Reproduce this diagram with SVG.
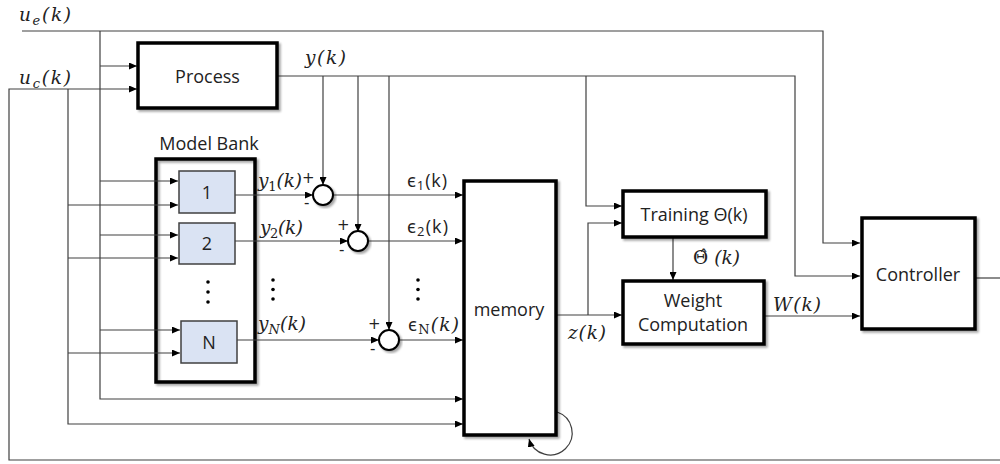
<svg xmlns="http://www.w3.org/2000/svg" width="1000" height="464" viewBox="0 0 1000 464">
<style>
.ln{fill:none;stroke:#404040;stroke-width:1.2}
.blk{fill:#fff;stroke:#000;stroke-width:3.5}
.mdl{fill:#dae3f3;stroke:#404040;stroke-width:1.5}
.sum{fill:#fff;stroke:#000;stroke-width:2}
.lb{font-family:"Open Sans","Noto Sans",sans-serif;font-size:18px;fill:#222}
.mt{font-family:"DejaVu Serif","Liberation Serif",serif;font-style:italic;font-size:18.5px;fill:#222}
.sg{font-family:"DejaVu Sans","Noto Sans",sans-serif;font-size:15px;fill:#222}
.dot{fill:#000}
</style>
<defs>
<marker id="ar" markerUnits="userSpaceOnUse" markerWidth="8" markerHeight="7" refX="8" refY="3.5" orient="auto">
<path d="M0,0 L8,3.5 L0,7 z" fill="#000"/>
</marker>
<filter id="sh" x="-10%" y="-10%" width="130%" height="130%">
<feDropShadow dx="2" dy="2" stdDeviation="1.2" flood-color="#000" flood-opacity="0.35"/>
</filter>
</defs>

<g id="model-bank">
<rect x="156" y="159" width="99" height="223" fill="none" stroke="#000" stroke-width="3.5" filter="url(#sh)"/>
<text class="lb" x="209" y="150" text-anchor="middle" font-size="19">Model Bank</text>
</g>

<g id="connectors">
<path class="ln" d="M22,31 H823 V243 H860" marker-end="url(#ar)"/>
<path class="ln" d="M100,31 V399 H463" marker-end="url(#ar)"/>
<path class="ln" d="M100,66 H137" marker-end="url(#ar)"/>
<path class="ln" d="M100,181 H178" marker-end="url(#ar)"/>
<path class="ln" d="M100,235 H178" marker-end="url(#ar)"/>
<path class="ln" d="M100,330 H180" marker-end="url(#ar)"/>
<path class="ln" d="M1000,460 H9 V89 H137" marker-end="url(#ar)"/>
<path class="ln" d="M68,89 V424 H463" marker-end="url(#ar)"/>
<path class="ln" d="M68,205 H178" marker-end="url(#ar)"/>
<path class="ln" d="M68,258 H178" marker-end="url(#ar)"/>
<path class="ln" d="M68,353 H180" marker-end="url(#ar)"/>
<path class="ln" d="M277,76 H795 V276 H860" marker-end="url(#ar)"/>
<path class="ln" d="M323,76 V185" marker-end="url(#ar)"/>
<path class="ln" d="M358,76 V232" marker-end="url(#ar)"/>
<path class="ln" d="M389,76 V330" marker-end="url(#ar)"/>
<path class="ln" d="M586,76 V206 H622" marker-end="url(#ar)"/>
<path class="ln" d="M235,195 H313" marker-end="url(#ar)"/>
<path class="ln" d="M235,241 H348" marker-end="url(#ar)"/>
<path class="ln" d="M237,340 H379" marker-end="url(#ar)"/>
<path class="ln" d="M333,195 H463" marker-end="url(#ar)"/>
<path class="ln" d="M368,241 H463" marker-end="url(#ar)"/>
<path class="ln" d="M399,340 H463" marker-end="url(#ar)"/>
<path class="ln" d="M556,315 H622" marker-end="url(#ar)"/>
<path class="ln" d="M588,315 V223 H622" marker-end="url(#ar)"/>
<path class="ln" d="M673,237 V280" marker-end="url(#ar)"/>
<path class="ln" d="M764,316 H860" marker-end="url(#ar)"/>
<path class="ln" d="M975,278 H1000"/>
<path class="ln" d="M557,412 A22,22 0 1 1 529,439" marker-end="url(#ar)"/>
</g>

<g id="labels">
<text class="mt" x="19" y="21" textLength="52" lengthAdjust="spacing">u<tspan font-size="13" dy="4">e</tspan><tspan dy="-4">(k)</tspan></text>
<text class="mt" x="19" y="84" textLength="52" lengthAdjust="spacing">u<tspan font-size="13" dy="4">c</tspan><tspan dy="-4">(k)</tspan></text>
<text class="mt" x="305" y="64" textLength="41" lengthAdjust="spacing">y(k)</text>
<text class="mt" x="258" y="187" textLength="44" lengthAdjust="spacing">y<tspan font-size="13" font-style="normal" dy="4">1</tspan><tspan dy="-4">(k)</tspan></text>
<text class="mt" x="260" y="234" textLength="43" lengthAdjust="spacing">y<tspan font-size="13" font-style="normal" dy="4">2</tspan><tspan dy="-4">(k)</tspan></text>
<text class="mt" x="258" y="330" textLength="48" lengthAdjust="spacing">y<tspan font-size="13" dy="4">N</tspan><tspan dy="-4">(k)</tspan></text>
<text class="sg" x="302" y="183">+</text>
<text class="sg" x="304" y="208">-</text>
<text class="sg" x="337" y="230">+</text>
<text class="sg" x="339" y="255">-</text>
<text class="sg" x="368" y="329">+</text>
<text class="sg" x="370" y="354">-</text>
<text class="lb" x="407" y="187" textLength="40" lengthAdjust="spacing" font-size="17">ϵ<tspan font-size="13" dy="3">1</tspan><tspan dy="-3">(k)</tspan></text>
<text class="lb" x="407" y="233" textLength="41" lengthAdjust="spacing" font-size="17">ϵ<tspan font-size="13" dy="3">2</tspan><tspan dy="-3">(k)</tspan></text>
<text class="lb" x="408" y="331" textLength="51" lengthAdjust="spacing" font-size="17">ϵ<tspan font-size="13" font-family="DejaVu Serif, serif" dy="3">N</tspan><tspan class="mt" dy="-3">(k)</tspan></text>
<text class="mt" x="568" y="339" textLength="38" lengthAdjust="spacing">z(k)</text>
<text class="mt" x="693" y="264" textLength="47" lengthAdjust="spacing"><tspan font-style="normal">Θ̂</tspan> (k)</text>
<text class="mt" x="773" y="311" textLength="48" lengthAdjust="spacing">W(k)</text>
<circle class="dot" cx="273" cy="280" r="1.8"/>
<circle class="dot" cx="273" cy="289.5" r="1.8"/>
<circle class="dot" cx="273" cy="299" r="1.8"/>
<circle class="dot" cx="418" cy="280" r="1.8"/>
<circle class="dot" cx="418" cy="289.5" r="1.8"/>
<circle class="dot" cx="418" cy="299" r="1.8"/>
</g>

<g id="process">
<rect class="blk" x="138" y="43" width="139" height="65" filter="url(#sh)"/>
<text class="lb" x="207.5" y="83" text-anchor="middle" font-size="17.5">Process</text>
</g>

<g id="model-1">
<rect class="mdl" x="179" y="171" width="56" height="42"/>
<text class="lb" x="207" y="198.5" text-anchor="middle" font-size="17">1</text>
</g>
<g id="model-2">
<rect class="mdl" x="179" y="223" width="56" height="41"/>
<text class="lb" x="207" y="250" text-anchor="middle" font-size="17">2</text>
</g>
<g id="model-dots">
<circle class="dot" cx="208" cy="282" r="1.8"/>
<circle class="dot" cx="208" cy="292" r="1.8"/>
<circle class="dot" cx="208" cy="302" r="1.8"/>
</g>
<g id="model-N">
<rect class="mdl" x="181" y="321" width="56" height="42"/>
<text class="lb" x="209" y="348.5" text-anchor="middle" font-size="17">N</text>
</g>

<g id="sum-1"><circle class="sum" cx="323" cy="195" r="10" filter="url(#sh)"/></g>
<g id="sum-2"><circle class="sum" cx="358" cy="241" r="10" filter="url(#sh)"/></g>
<g id="sum-N"><circle class="sum" cx="389" cy="340" r="10" filter="url(#sh)"/></g>

<g id="memory">
<rect class="blk" x="464" y="181" width="92" height="254" filter="url(#sh)"/>
<text class="lb" x="509" y="316" text-anchor="middle">memory</text>
</g>

<g id="training">
<rect class="blk" x="623" y="191" width="143" height="46" filter="url(#sh)"/>
<text class="lb" x="694" y="221" text-anchor="middle">Training Θ(k)</text>
</g>

<g id="weight">
<rect class="blk" x="623" y="281" width="141" height="63" filter="url(#sh)"/>
<text class="lb" x="693" y="307" text-anchor="middle" font-size="18.5">Weight</text>
<text class="lb" x="693" y="331" text-anchor="middle" font-size="18.5">Computation</text>
</g>

<g id="controller">
<rect class="blk" x="862" y="218" width="113" height="111" filter="url(#sh)"/>
<text class="lb" x="918" y="281" text-anchor="middle" font-size="18.5">Controller</text>
</g>
</svg>
